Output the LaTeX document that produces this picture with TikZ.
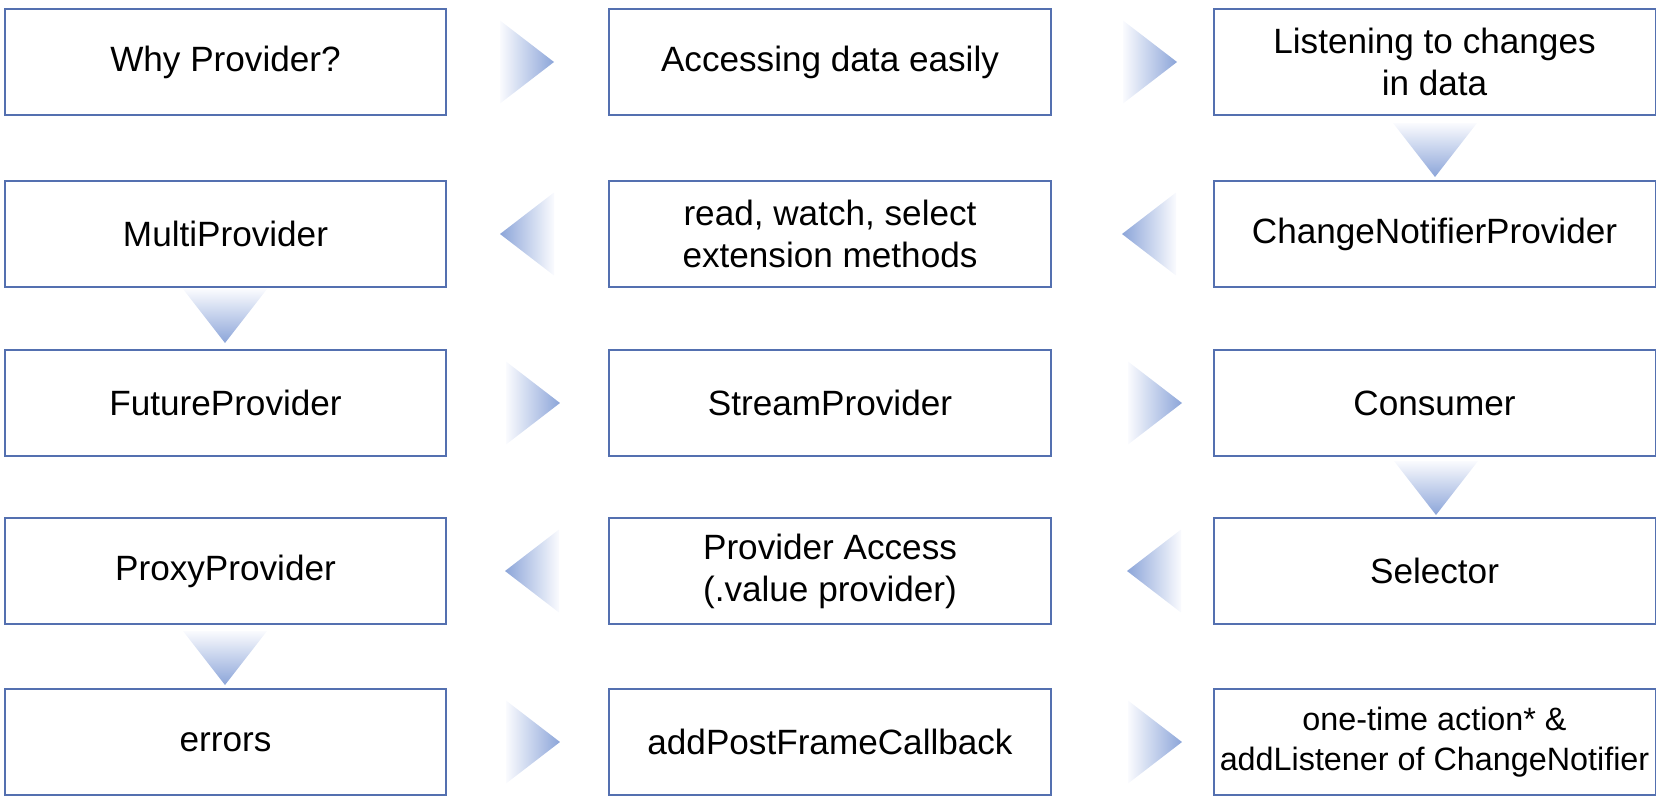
\documentclass[tikz,border=0pt]{standalone}
\usepackage{fontspec}
\setmainfont{Liberation Sans}
\usepackage{tikz}
\usetikzlibrary{positioning,calc}

\definecolor{boxline}{RGB}{84,112,176}
\definecolor{tri}{RGB}{140,165,217}
\definecolor{trilight}{RGB}{250,251,254}

\tikzset{
    topic/.style={draw=boxline, line width=1.1pt, fill=white,
        minimum width=8.84cm, minimum height=2.12cm,
        align=center, font=\fontsize{20}{24}\selectfont},
}

% shaded pointers between the boxes
\newcommand{\rtri}[2]{\shade[shift={(#1,#2)}, left color=trilight, right color=tri]
    (-27,-41.5) -- (27,0) -- (-27,41.5) -- cycle;}
\newcommand{\ltri}[2]{\shade[shift={(#1,#2)}, left color=tri, right color=trilight]
    (27,-41.5) -- (-27,0) -- (27,41.5) -- cycle;}
\newcommand{\dtri}[2]{\shade[shift={(#1,#2)}, top color=trilight, bottom color=tri]
    (-42,-27) -- (42,-27) -- (0,27) -- cycle;}

\begin{document}
\begin{tikzpicture}[x=0.02cm, y=-0.02cm]
    \useasboundingbox (0,0) rectangle (1662,802);

    % row 1
    \node[topic] (why)    at (225.5,62) {Why Provider?};
    \node[topic] (access) at (830,62)   {Accessing data easily};
    \node[topic] (listen) at (1434.5,62) {Listening to changes\\in data};

    % row 2
    \node[topic] (multi)  at (225.5,234) {MultiProvider};
    \node[topic] (read)   at (830,234)   {read, watch, select\\extension methods};
    \node[topic] (cnp)    at (1434.5,234) {ChangeNotifierProvider};

    % row 3
    \node[topic] (future) at (225.5,403) {FutureProvider};
    \node[topic] (stream) at (830,403)   {StreamProvider};
    \node[topic] (consumer) at (1434.5,403) {Consumer};

    % row 4
    \node[topic] (proxy)  at (225.5,571) {ProxyProvider};
    \node[topic] (paccess) at (830,571)  {Provider Access\\(.value provider)};
    \node[topic] (selector) at (1434.5,571) {Selector};

    % row 5
    \node[topic] (errors) at (225.5,742) {errors};
    \node[topic] (post)   at (830,742)   {addPostFrameCallback};
    \node[topic, font=\fontsize{18.4}{22.5}\selectfont] (once) at (1434.5,742)
        {one-time action* \&\\addListener of ChangeNotifier};

    \rtri{527}{62}   \rtri{1150}{62}
    \dtri{1435}{150}
    \ltri{527}{234}  \ltri{1149}{234}
    \dtri{225}{316}
    \rtri{533}{403}  \rtri{1155}{403}
    \dtri{1436}{488}
    \ltri{532}{571}  \ltri{1154}{571}
    \dtri{225}{658}
    \rtri{533}{742}  \rtri{1155}{742}
\end{tikzpicture}
\end{document}
